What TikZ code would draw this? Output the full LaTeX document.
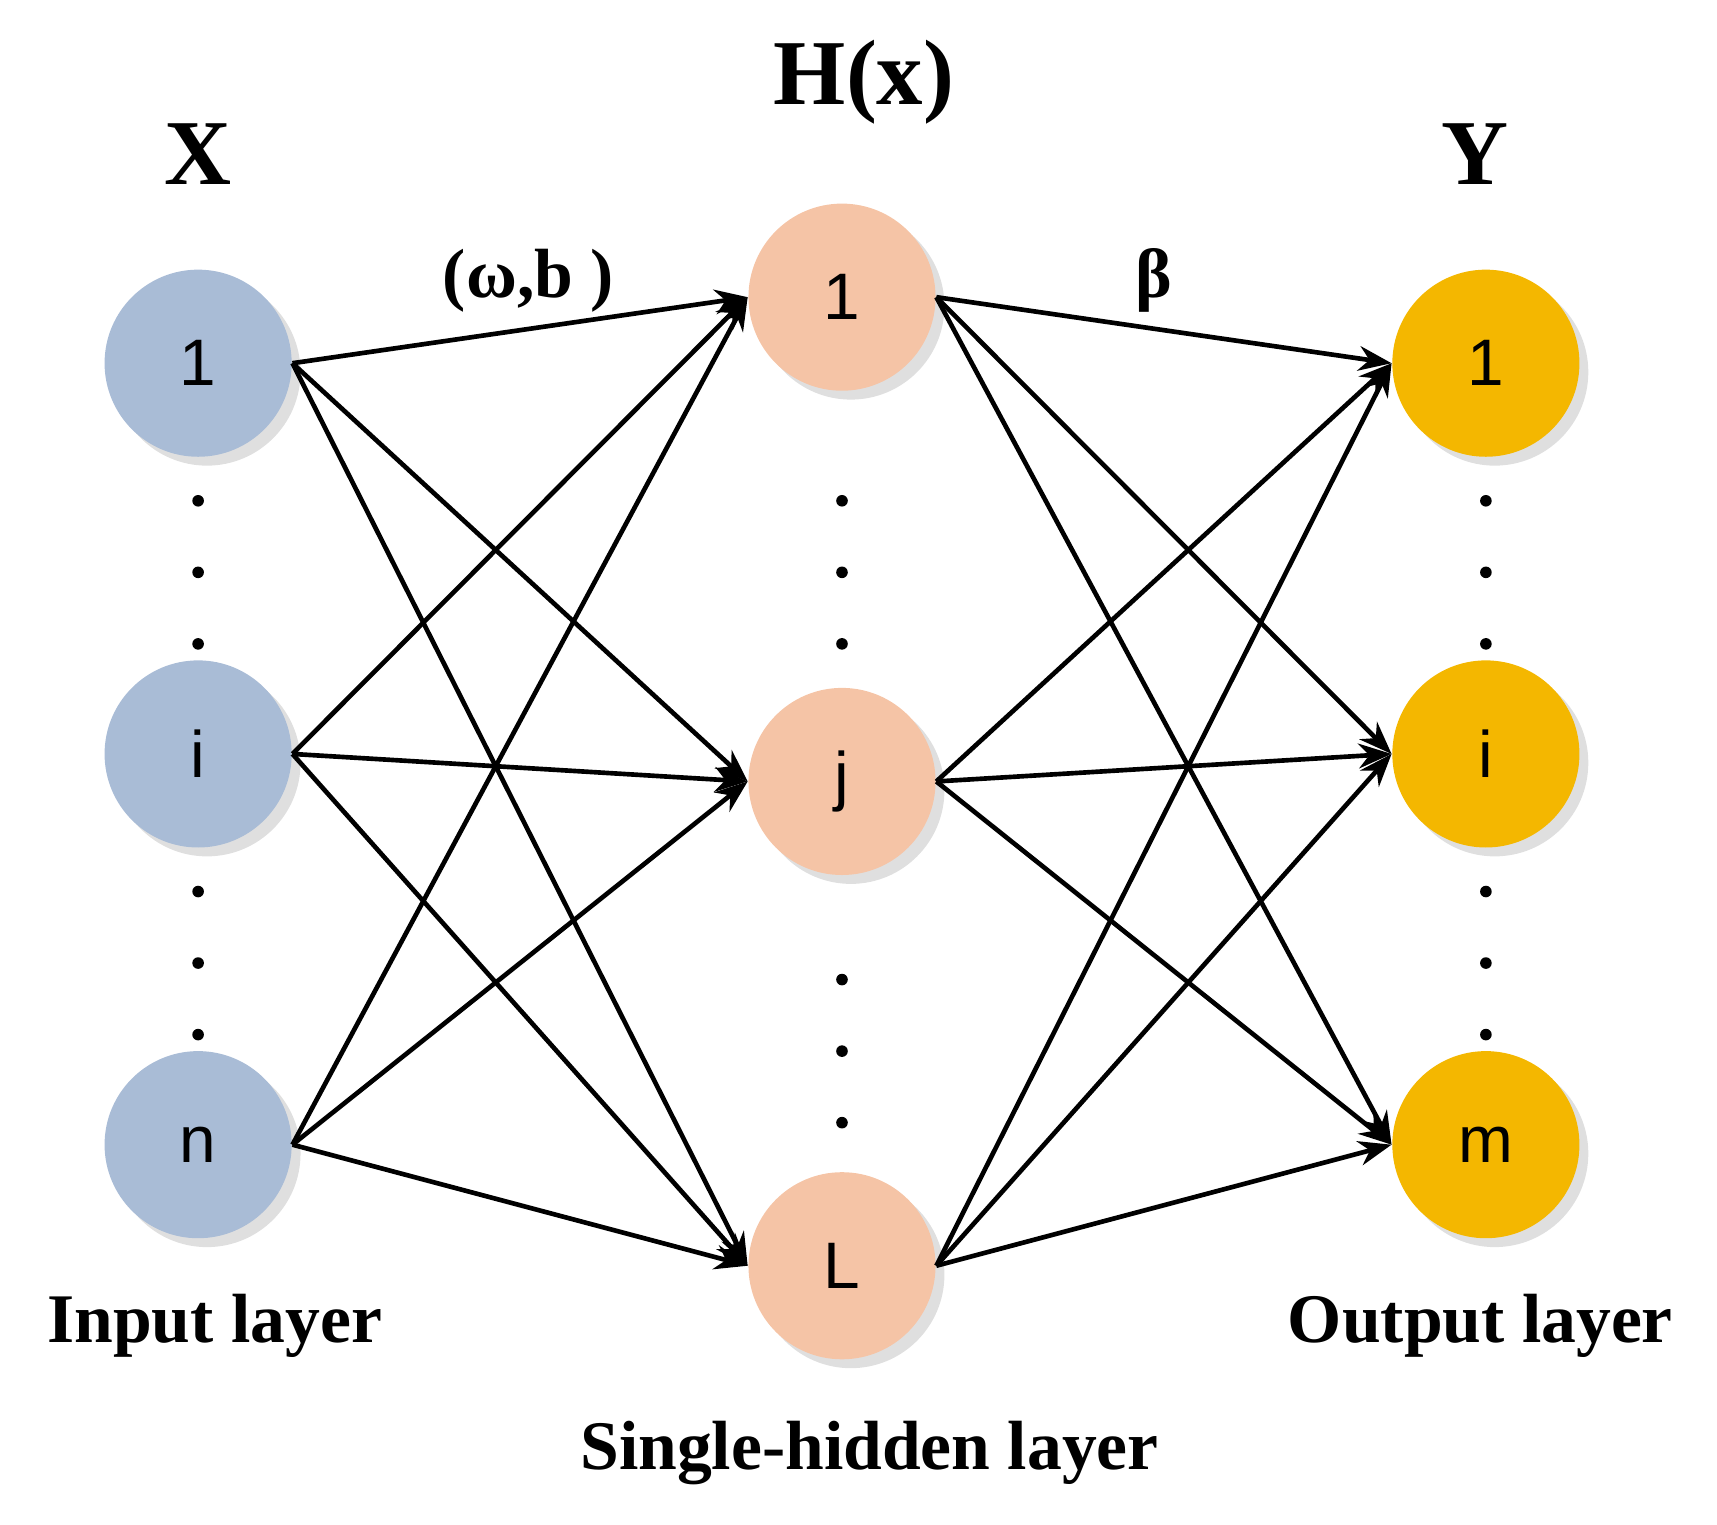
\documentclass[tikz,border=0pt]{standalone}
\usepackage{fontspec}
\setmainfont{Liberation Serif}
\newfontfamily\nodefont{Liberation Sans}
\usetikzlibrary{arrows.meta,shadows}
\definecolor{inblue}{HTML}{A9BCD6}
\definecolor{hidpeach}{HTML}{F5C4A6}
\definecolor{outgold}{HTML}{F4B700}
\tikzset{
  neuron/.style={circle, minimum size=1.7cm, inner sep=0pt, font=\nodefont\fontsize{17}{17}\selectfont, drop shadow={opacity=0.25}},
  conn/.style={line width=1.2pt, -{Stealth[length=3mm]}},
  title/.style={font=\bfseries\fontsize{24}{24}\selectfont},
  caption/.style={font=\bfseries\fontsize{18}{18}\selectfont}
}
\begin{document}
\begin{tikzpicture}
  \useasboundingbox (0,0) rectangle (15.6,13.85);
  % Input layer
  \node[neuron, fill=inblue] (x1) at (1.8,10.55) {1};
  \node[neuron, fill=inblue] (xi) at (1.8,7.0) {i};
  \node[neuron, fill=inblue] (xn) at (1.8,3.45) {n};
  % Hidden layer
  \node[neuron, fill=hidpeach] (h1) at (7.65,11.15) {1};
  \node[neuron, fill=hidpeach] (hj) at (7.65,6.75) {j};
  \node[neuron, fill=hidpeach] (hL) at (7.65,2.35) {L};
  % Output layer
  \node[neuron, fill=outgold] (y1) at (13.5,10.55) {1};
  \node[neuron, fill=outgold] (yi) at (13.5,7.0) {i};
  \node[neuron, fill=outgold] (ym) at (13.5,3.45) {m};
  % Dots
  \foreach \x/\ys in {1.8/{9.3,8.65,8.0,5.75,5.1,4.45},7.65/{9.3,8.65,8.0,4.95,4.3,3.65},13.5/{9.3,8.65,8.0,5.75,5.1,4.45}}
    \foreach \y in \ys
      \fill (\x,\y) circle (1.5pt);
  % Connections
  \foreach \a in {x1,xi,xn}
    \foreach \b in {h1,hj,hL}
      \draw[conn] (\a.east) -- (\b.west);
  \foreach \a in {h1,hj,hL}
    \foreach \b in {y1,yi,ym}
      \draw[conn] (\a.east) -- (\b.west);
  % Labels
  \node[title] (lx) at (1.8,12.45) {X};
  \node[title] (lh) at (7.85,13.1) {H(x)};
  \node[title] (ly) at (13.4,12.45) {Y};
  \node[caption] (wb) at (4.8,11.3) {(ω,b )};
  \node[caption] (beta) at (10.48,11.3) {β};
  \node[caption] (lin) at (1.95,1.8) {Input layer};
  \node[caption] (lout) at (13.45,1.8) {Output layer};
  \node[caption] (lhid) at (7.9,0.65) {Single-hidden layer};
\end{tikzpicture}
\end{document}
